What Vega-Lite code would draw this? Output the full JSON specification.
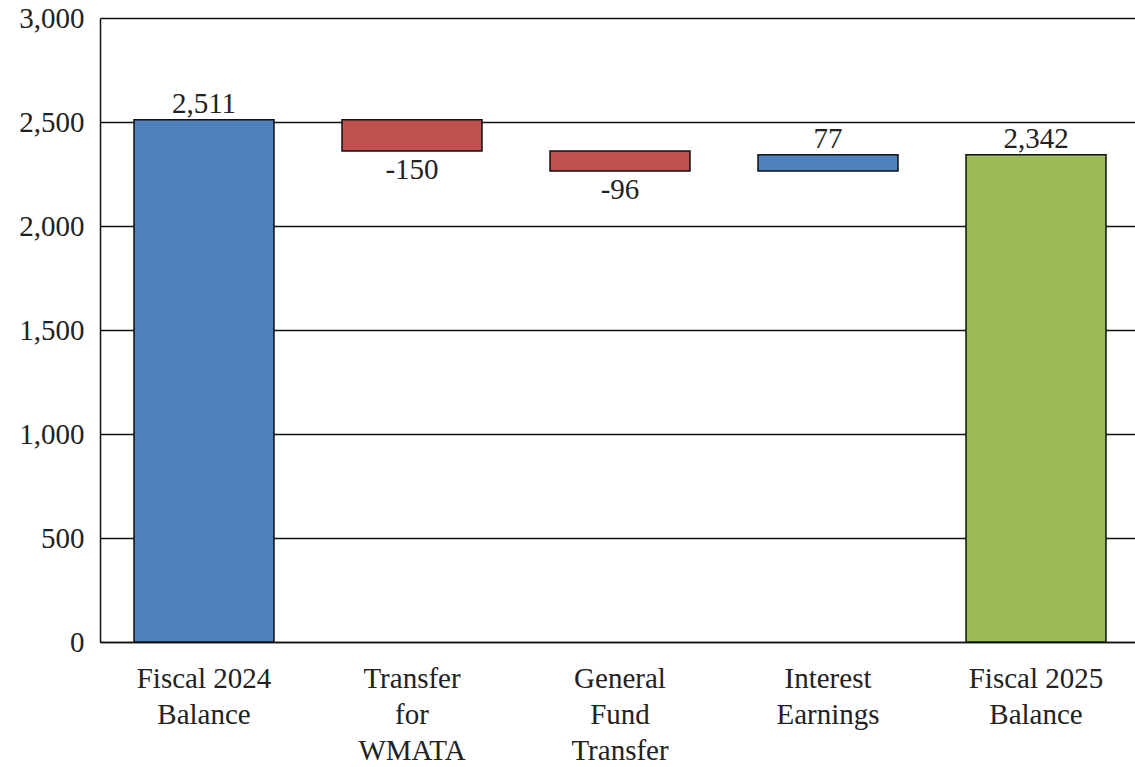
{
  "$schema": "https://vega.github.io/schema/vega-lite/v6.json",
  "width": 1040,
  "height": 624,
  "autosize": "none",
  "padding": {"left": 100, "top": 18, "right": 0, "bottom": 125},
  "background": "white",
  "config": {
    "view": {"stroke": null},
    "font": "Liberation Serif",
    "axis": {"labelFont": "Liberation Serif", "labelFontSize": 29, "labelColor": "#222222"}
  },
  "data": {
    "values": [
      {"category": "Fiscal 2024|Balance", "start": 0, "end": 2511, "value": 2511, "label": "2,511", "kind": "total"},
      {"category": "Transfer|for|WMATA", "start": 2511, "end": 2361, "value": -150, "label": "-150", "kind": "decrease"},
      {"category": "General|Fund|Transfer", "start": 2361, "end": 2265, "value": -96, "label": "-96", "kind": "decrease"},
      {"category": "Interest|Earnings", "start": 2265, "end": 2342, "value": 77, "label": "77", "kind": "increase"},
      {"category": "Fiscal 2025|Balance", "start": 0, "end": 2342, "value": 2342, "label": "2,342", "kind": "final"}
    ]
  },
  "encoding": {
    "x": {
      "field": "category",
      "type": "nominal",
      "sort": null,
      "title": null,
      "scale": {"paddingInner": 0.327, "paddingOuter": 0.1635},
      "axis": {
        "labelAngle": 0,
        "labelExpr": "split(datum.label, '|')",
        "labelLineHeight": 36,
        "labelPadding": 22,
        "labelBaseline": "top",
        "ticks": false,
        "domainColor": "#111111",
        "domainWidth": 1.5
      }
    }
  },
  "layer": [
    {
      "mark": {"type": "bar", "stroke": "#111111", "strokeWidth": 1.5},
      "encoding": {
        "y": {
          "field": "start",
          "type": "quantitative",
          "title": null,
          "scale": {"domain": [0, 3000], "nice": false},
          "axis": {
            "values": [0, 500, 1000, 1500, 2000, 2500, 3000],
            "format": ",d",
            "grid": true,
            "gridColor": "#111111",
            "gridWidth": 1.5,
            "gridOpacity": 1,
            "ticks": false,
            "labelPadding": 16,
            "domainColor": "#111111",
            "domainWidth": 1.5
          }
        },
        "y2": {"field": "end"},
        "color": {
          "field": "kind",
          "type": "nominal",
          "legend": null,
          "scale": {
            "domain": ["total", "decrease", "increase", "final"],
            "range": ["#4F81BD", "#C0504D", "#4F81BD", "#9BBB59"]
          }
        }
      }
    },
    {
      "transform": [{"filter": "datum.value >= 0"}],
      "mark": {"type": "text", "baseline": "bottom", "dy": -1, "fontSize": 29, "color": "#222222", "font": "Liberation Serif"},
      "encoding": {
        "y": {"field": "end", "type": "quantitative"},
        "text": {"field": "label"}
      }
    },
    {
      "transform": [{"filter": "datum.value < 0"}],
      "mark": {"type": "text", "baseline": "top", "dy": 5, "fontSize": 29, "color": "#222222", "font": "Liberation Serif"},
      "encoding": {
        "y": {"field": "end", "type": "quantitative"},
        "text": {"field": "label"}
      }
    }
  ]
}
